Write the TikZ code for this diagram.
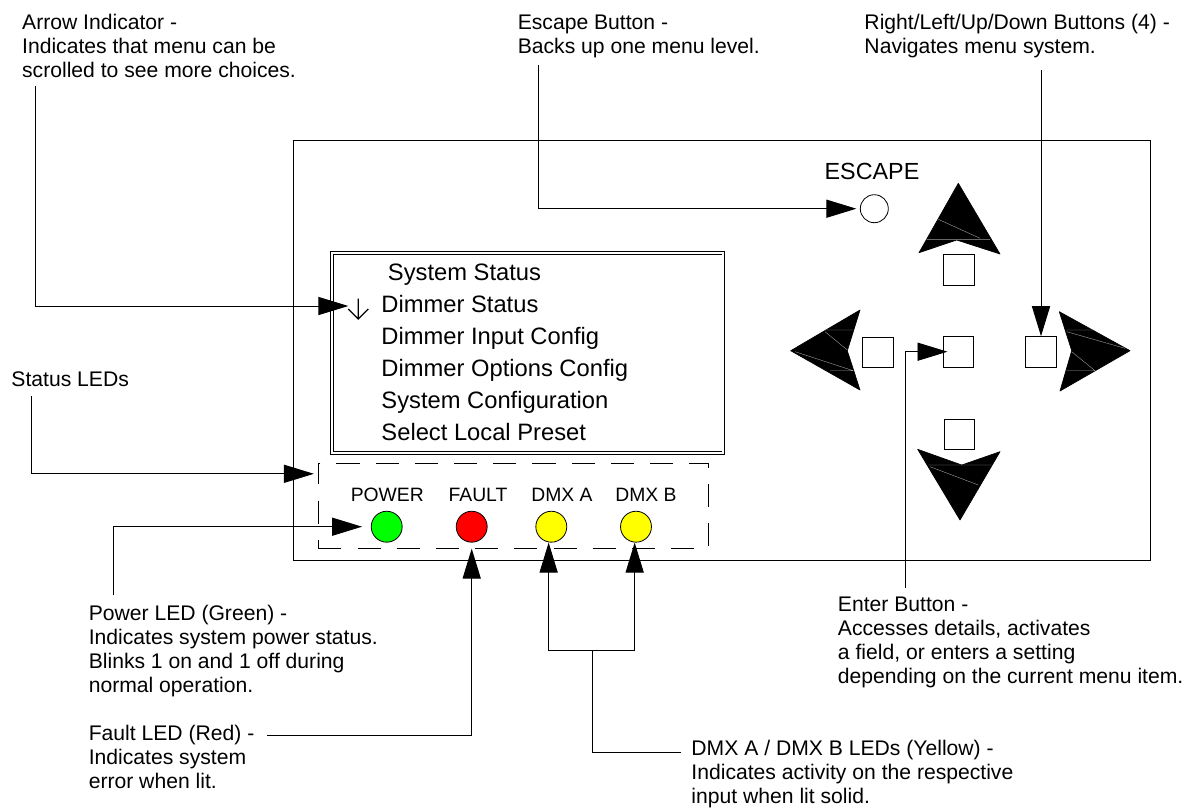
\documentclass[tikz,border=0pt]{standalone}
\usepackage{fontspec}
\setmainfont{Liberation Sans}
\usepackage{tikz}
\usetikzlibrary{arrows.meta,positioning}
\definecolor{ledVert}{RGB}{0,255,0}
\definecolor{ledRouge}{RGB}{255,0,0}
\definecolor{ledJaune}{RGB}{255,255,0}

\begin{document}
\begin{tikzpicture}[x=0.75pt,y=-0.75pt,line width=0.72pt,
  note/.style={inner sep=0pt,anchor=north west,align=left,font=\fontsize{15.85}{18}\selectfont},
  menuitem/.style={inner sep=0pt,anchor=base west,font=\fontsize{17.8}{20}\selectfont},
  ledlabel/.style={inner sep=0pt,font=\fontsize{14.5}{16}\selectfont},
  led/.style={circle,draw,line width=0.6pt,minimum size=23.2pt,inner sep=0pt},
  navbtn/.style={rectangle,draw,fill=white,line width=0.7pt,minimum size=23pt,inner sep=0pt},
  navarrow/.style={fill=black,draw=black,line width=0.5pt,line join=round},
  navcrease/.style={draw=gray!75,line width=0.3pt},
  leader/.style={draw,-{Triangle[length=22.5pt,width=13.6pt]}}]

  \useasboundingbox (0,0) rectangle (1195,808);

  \draw (293,140) rectangle (1150,560);

  \node[draw,double,double distance=1.4pt,line width=0.6pt,minimum width=293.6pt,minimum height=150.3pt,inner sep=0pt]
    (menuBox) at (527.5,353) {};
  \node[menuitem] (itemSys)    at (387.5,280) {System Status};
  \node[menuitem] (itemStatus) at (381,312) {Dimmer Status};
  \node[menuitem] (itemInput)  at (381,344) {Dimmer Input Config};
  \node[menuitem] (itemOpts)   at (381,376) {Dimmer Options Config};
  \node[menuitem] (itemConf)   at (381,408) {System Configuration};
  \node[menuitem] (itemPreset) at (381,440) {Select Local Preset};
  \draw[line width=0.95pt] (358.3,298.5) -- (358.3,319) (348.3,309) -- (358.3,319) -- (368.3,309);
  \coordinate (arrowMark) at (348.3,306);

  \node[draw,dash pattern=on 17.3pt off 12.1pt,line width=0.7pt,minimum width=292.3pt,minimum height=63.7pt,inner sep=0pt]
    (statusBox) at (513.2,505.8) {};

  \node[ledlabel] (lblPower) at (387.3,495) {POWER};
  \node[ledlabel] (lblFault) at (478,495) {FAULT};
  \node[ledlabel] (lblDmxA)  at (562,495) {DMX A};
  \node[ledlabel] (lblDmxB)  at (646,495) {DMX B};
  \node[led,fill=ledVert]  (ledPower) at (386.7,526.7) {};
  \node[led,fill=ledRouge] (ledFault) at (471.7,526.7) {};
  \node[led,fill=ledJaune] (ledDmxA)  at (551.3,526.7) {};
  \node[led,fill=ledJaune] (ledDmxB)  at (636,526.7) {};

  \node[inner sep=0pt,font=\fontsize{17.5}{20}\selectfont] (lblEscape) at (872,171) {ESCAPE};
  \node[circle,draw,line width=0.6pt,minimum size=21pt,inner sep=0pt] (btnEscape) at (874.3,208.7) {};

  \node[navbtn] (btnUp)    at (958.7,270) {};
  \node[navbtn] (btnLeft)  at (878,352.3) {};
  \node[navbtn] (btnEnter) at (958.3,351.7) {};
  \node[navbtn] (btnRight) at (1041,352) {};
  \node[navbtn] (btnDown)  at (959.3,434.3) {};

  \path[navarrow] (958.3,183.3) -- (1000,254) -- (956.7,240) -- (919,252.7) -- cycle;
  \path[navarrow] (790.7,350.7) -- (860,310) -- (847.3,350.7) -- (860,390) -- cycle;
  \path[navarrow] (1130,350.7) -- (1059.3,311.7) -- (1071.7,350.7) -- (1060,391) -- cycle;
  \path[navarrow] (960,520) -- (917.7,449.3) -- (961.7,465) -- (1000,451.7) -- cycle;
  \path[navcrease] (938.3,219.3) -- (980,238.3) (926.7,239.3) -- (990,239.3);
  \path[navcrease] (825,330) -- (853.3,330) (825,331.7) -- (847.3,350) (795,351.7) -- (853.3,370.7) (830,370.7) -- (853.3,370.7);
  \path[navcrease] (1066.7,330) -- (1093.3,330) (1066.7,331.7) -- (1125,348.3) (1071.7,351.7) -- (1095,370.7) (1066.7,370.7) -- (1095,370.7);
  \path[navcrease] (928.3,465) -- (991.7,465) (930,466.7) -- (978.3,485);

  \node[note] (noteArrow) at (21.7,14)
    {Arrow Indicator -\\Indicates that menu can be\\scrolled to see more choices.};
  \node[note] (noteEscape) at (517.3,14.5)
    {Escape Button -\\Backs up one menu level.};
  \node[note] (noteNav) at (864,14)
    {Right/Left/Up/Down Buttons (4) -\\Navigates menu system.};
  \node[note] (noteStatus) at (11,371) {Status LEDs};
  \node[note] (notePower) at (88.3,604.5)
    {Power LED (Green) -\\Indicates system power status.\\Blinks 1 on and 1 off during\\normal operation.};
  \node[note] (noteFault) at (88.3,724.5)
    {Fault LED (Red) -\\Indicates system\\error when lit.};
  \node[note] (noteEnter) at (837.5,596)
    {Enter Button -\\Accesses details, activates\\a field, or enters a setting\\depending on the current menu item.};
  \node[note] (noteDmx) at (691,740)
    {DMX A / DMX B LEDs (Yellow) -\\Indicates activity on the respective\\input when lit solid.};

  \coordinate (startArrow)  at (35.3,86);
  \coordinate (startEscape) at (538.5,65);
  \coordinate (startNav)    at (1041,70);
  \coordinate (startStatus) at (31.3,396);
  \coordinate (startPower)  at (113.3,595);
  \coordinate (startFault)  at (267,735);
  \coordinate (startEnter)  at (905,588);
  \coordinate (dmxBus)      at (592.5,650);
  \coordinate (dmxEnd)      at (681,752);

  \draw[leader] (startArrow) |- (arrowMark);
  \draw[leader] (startEscape) |- ([xshift=-2.7pt]btnEscape.west);
  \draw[leader] (startNav) -- (btnRight.north);
  \draw[leader] (startStatus) |- ([xshift=-3pt,yshift=24pt]statusBox.west);
  \draw[leader] (startPower) |- ([xshift=-6.6pt]ledPower.west);
  \draw[leader] (startFault) -| ([yshift=-4.5pt]ledFault.south);
  \draw[leader] (startEnter) |- ([xshift=3.75pt]btnEnter.west);
  \draw[leader] (dmxBus) -| ([xshift=-2pt]ledDmxA.south);
  \draw[leader] (dmxBus) -| ([xshift=-1pt]ledDmxB.south);
  \draw (dmxBus) |- (dmxEnd);
\end{tikzpicture}
\end{document}
